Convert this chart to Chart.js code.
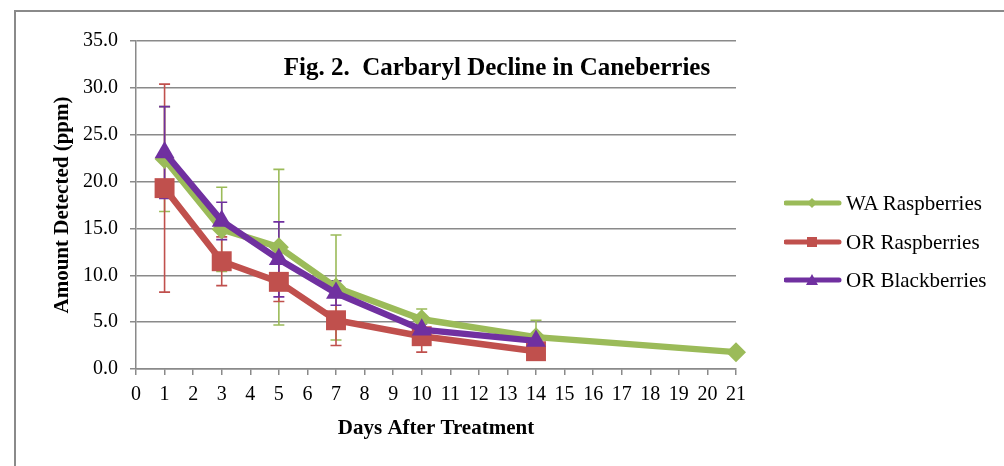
<!DOCTYPE html>
<html>
<head>
<meta charset="utf-8">
<script src="https://cdn.jsdelivr.net/npm/chart.js@4.4.0/dist/chart.umd.min.js"></script>
<style>
  html, body { margin: 0; padding: 0; background: #fff; }
  #wrap { position: relative; width: 1004px; height: 466px; overflow: hidden; }
  #frame { position: absolute; left: 14px; top: 10px; width: 1200px; height: 600px;
           border-left: 2px solid #8a8a8a; border-top: 2px solid #8a8a8a; }
  canvas { position: absolute; left: 0; top: 0; }
  .leg { position: absolute; left: 784px; height: 26px; display: flex; align-items: center;
         font-family: "Liberation Serif", "Times New Roman", serif; font-size: 21px; color: #000; white-space: nowrap; }
  .leg svg { margin-right: 4px; }
</style>
</head>
<body>
<div id="wrap">
  <div id="frame"></div>
  <canvas id="c" width="1004" height="466"></canvas>
  <div id="legend"></div>
</div>
<script>
const chartTitle = "Fig. 2.  Carbaryl Decline in Caneberries";
const xTitle = "Days After Treatment";
const yTitle = "Amount Detected (ppm)";

const seriesNames = ["WA Raspberries", "OR Raspberries", "OR Blackberries"];
const seriesColors = ["#9BBB59", "#C0504D", "#7030A0"];

const waDays = [1, 3, 5, 7, 10, 14, 21];
const waValues = [22.4, 14.9, 13.0, 8.7, 5.3, 3.4, 1.8];
const waErrors = [5.6, 4.5, 8.3, 5.6, 1.1, 1.8, 0];

const orRaspDays = [1, 3, 5, 7, 10, 14];
const orRaspValues = [19.3, 11.5, 9.3, 5.2, 3.5, 1.9];
const orRaspErrors = [11.1, 2.6, 2.1, 2.7, 1.7, 0.3];

const orBlackDays = [1, 3, 5, 7, 10, 14];
const orBlackValues = [23.1, 15.8, 11.7, 8.1, 4.2, 3.0];
const orBlackErrors = [4.9, 2.0, 4.0, 1.3, 0.6, 0.3];

const xMin = 0, xMax = 21, xStep = 1;
const yMin = 0, yMax = 35, yStep = 5;

const serifFont = '"Liberation Serif", "Times New Roman", serif';

function toPoints(days, vals) { return days.map((d, i) => ({ x: d, y: vals[i] })); }

const seriesDays = [waDays, orRaspDays, orBlackDays];
const seriesValues = [waValues, orRaspValues, orBlackValues];
const seriesErrors = [waErrors, orRaspErrors, orBlackErrors];

const errorBarPlugin = {
  id: 'errorBars',
  beforeDatasetsDraw(chart) {
    const ctx = chart.ctx;
    const xs = chart.scales.x, ys = chart.scales.y;
    ctx.save();
    ctx.lineWidth = 1.6;
    for (let s = 0; s < seriesDays.length; s++) {
      ctx.strokeStyle = seriesColors[s];
      seriesDays[s].forEach((d, i) => {
        const e = seriesErrors[s][i];
        if (!e) return;
        const v = seriesValues[s][i];
        const px = xs.getPixelForValue(d);
        const top = ys.getPixelForValue(v + e);
        const bot = ys.getPixelForValue(v - e);
        ctx.beginPath();
        ctx.moveTo(px, top); ctx.lineTo(px, bot);
        ctx.moveTo(px - 5.5, top); ctx.lineTo(px + 5.5, top);
        ctx.moveTo(px - 5.5, bot); ctx.lineTo(px + 5.5, bot);
        ctx.stroke();
      });
    }
    ctx.restore();
  }
};

const titlePlugin = {
  id: 'innerTitle',
  afterDraw(chart) {
    const ctx = chart.ctx;
    ctx.save();
    ctx.font = 'bold 25px ' + serifFont;
    ctx.fillStyle = '#000';
    ctx.textAlign = 'center';
    ctx.textBaseline = 'middle';
    ctx.fillText(chartTitle, 497, 69);
    ctx.restore();
  }
};

const pointStyles = ['rectRot', 'rect', 'triangle'];
const pointRadii = [10, 14.1, 11.5];
const orders = [2, 1, 0];

const datasets = seriesNames.map((name, s) => ({
  label: name,
  data: toPoints(seriesDays[s], seriesValues[s]),
  borderColor: seriesColors[s],
  backgroundColor: seriesColors[s],
  borderWidth: 6.5,
  pointStyle: pointStyles[s],
  pointRadius: pointRadii[s],
  pointBorderWidth: 0,
  pointBackgroundColor: seriesColors[s],
  showLine: true,
  tension: 0,
  clip: false,
  order: orders[s]
}));

new Chart(document.getElementById('c'), {
  type: 'scatter',
  data: { datasets },
  plugins: [errorBarPlugin, titlePlugin],
  options: {
    responsive: false,
    animation: false,
    layout: { padding: { left: 46, top: 41, right: 268, bottom: 21 } },
    plugins: { legend: { display: false }, tooltip: { enabled: false } },
    scales: {
      x: {
        type: 'linear', min: xMin, max: xMax,
        ticks: { stepSize: xStep, color: '#000', font: { family: serifFont, size: 20 }, padding: 8, maxRotation: 0, autoSkip: false },
        grid: { drawOnChartArea: false, drawTicks: true, tickLength: 6, color: '#8a8a8a', lineWidth: 1.5 },
        border: { color: '#8a8a8a', width: 1.5 },
        title: { display: true, text: xTitle, color: '#000', font: { family: serifFont, size: 21, weight: 'bold' }, padding: { top: 4, bottom: 4 } },
        afterFit(scale) { scale.height = 76; }
      },
      y: {
        type: 'linear', min: yMin, max: yMax,
        ticks: { stepSize: yStep, color: '#000', font: { family: serifFont, size: 20 }, padding: 12,
                 callback: v => Number(v).toFixed(1) },
        grid: { color: '#8a8a8a', lineWidth: 1.5, tickLength: 6 },
        border: { color: '#8a8a8a', width: 1.5 },
        title: { display: true, text: yTitle, color: '#000', font: { family: serifFont, size: 21, weight: 'bold' }, padding: { top: 4, bottom: 4 } },
        afterFit(scale) { scale.width = 90; }
      }
    }
  }
});

// HTML legend
const legendY = [203, 242, 280];
const legend = document.getElementById('legend');
seriesNames.forEach((name, s) => {
  const div = document.createElement('div');
  div.className = 'leg';
  div.style.top = (legendY[s] - 13) + 'px';
  const c = seriesColors[s];
  let marker;
  if (s === 0) marker = `<polygon points="28,8 33,13 28,18 23,13" fill="${c}"/>`;
  else if (s === 1) marker = `<rect x="23" y="8" width="10" height="10" fill="${c}"/>`;
  else marker = `<polygon points="28,7 34,18 22,18" fill="${c}"/>`;
  div.innerHTML = `<svg width="58" height="26" viewBox="0 0 58 26"><line x1="2" y1="13" x2="55" y2="13" stroke="${c}" stroke-width="5" stroke-linecap="round"/>${marker}</svg><span>${name}</span>`;
  legend.appendChild(div);
});
</script>
</body>
</html>
